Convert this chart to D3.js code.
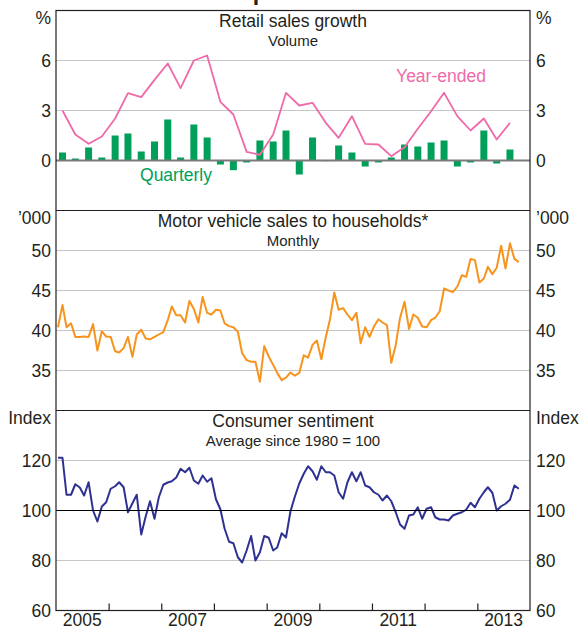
<!DOCTYPE html>
<html>
<head>
<meta charset="utf-8">
<script src="https://cdn.jsdelivr.net/npm/d3@7"></script>
<style>
  body { margin: 0; background: #fff; }
  svg { display: block; font-family: Arial, "Liberation Sans", sans-serif; }
</style>
</head>
<body>
<svg id="chart" width="580" height="628"></svg>
<script>
// retail sales volume, quarterly % change, Mar-2005 .. Sep-2013
const retailQuarterly = [
  0.48, 0.12, 0.78, 0.18, 1.5, 1.62, 0.54, 1.14, 2.46, 0.18, 2.16, 1.38,
  -0.24, -0.58, -0.12, 1.2, 1.14, 1.8, -0.84, 1.38, -0.04, 0.9, 0.48, -0.36,
  -0.12, 0.18, 0.96, 0.84, 1.08, 1.2, -0.36, -0.12, 1.8, -0.18, 0.66
]
// retail sales volume, year-ended % change, same quarters
const retailYearEnded = [
  3.0, 1.56, 1.0, 1.44, 2.52, 4.04, 3.8, 4.84, 5.82, 4.34, 6.0, 6.3,
  3.52, 2.76, 0.52, 0.34, 1.56, 4.06, 3.3, 3.46, 2.26, 1.36, 2.66, 1.0,
  0.96, 0.26, 0.8, 1.9, 2.96, 4.06, 2.66, 1.8, 2.52, 1.26, 2.26
]
// motor vehicle sales to households, '000, Jan-2005 .. Oct-2013
const motorVehicles = [
  40.4, 43.2, 40.4, 40.9, 39.2, 39.2, 39.25, 39.2, 40.8, 37.5, 39.9, 39.25,
  39.2, 37.4, 37.25, 37.8, 39.2, 36.7, 39.5, 40.1, 39.0, 38.9, 39.2, 39.5,
  39.8, 41.3, 43.0, 41.9, 41.9, 41.0, 43.7, 42.7, 41.0, 44.2, 42.2, 42.0,
  42.6, 42.5, 40.9, 40.55, 40.4, 39.85, 37.15, 36.3, 36.1, 36.1, 33.6, 38.05,
  36.75, 35.7, 34.7, 33.8, 34.1, 34.75, 34.35, 34.7, 36.9, 36.6, 38.2, 38.75,
  36.4, 39.2, 41.3, 44.75, 42.6, 42.8, 42.0, 41.3, 42.2, 38.4, 40.4, 39.2,
  40.5, 41.4, 41.0, 40.67, 35.96, 38.2, 41.6, 43.6, 40.2, 42.0, 41.6, 40.5,
  40.4, 41.3, 41.6, 42.4, 45.25, 45.0, 44.8, 45.5, 46.9, 46.7, 48.95, 48.8,
  46.0, 46.5, 47.95, 47.05, 47.85, 50.6, 47.75, 50.9, 48.95, 48.55
]
// consumer sentiment index, Jan-2005 .. Oct-2013
const consumerSentiment = [
  121.1, 121.1, 106.3, 106.3, 110.5, 109.2, 106, 111.3, 100, 95.6, 101.6, 103.3,
  108.7, 109.7, 111.3, 109.3, 99.3, 102.9, 106.3, 90.4, 97.6, 103.7, 96.7, 105.3,
  110.3, 111.2, 111.7, 113.2, 116.7, 115.3, 117.1, 112, 110.7, 114, 111.5, 112.9,
  104.5, 100.5, 92.8, 87.5, 86.9, 81.3, 79.2, 84, 89.8, 80, 83.3, 89.8,
  89.1, 84, 85.2, 90.9, 89.2, 99.7, 105.5, 110.8, 114.7, 117.7, 115.7, 112.3,
  117.7, 115.3, 115.3, 114, 107.3, 104.7, 111.3, 115.3, 111.7, 115.3, 110, 109.3,
  107.3, 106.3, 104, 106, 103.7, 99.3, 94.4, 92.7, 98, 98.4, 101.3, 96.7,
  100.7, 101.3, 97.3, 96.4, 96.4, 96, 98, 98.7, 99.3, 100.3, 103.1, 101.3,
  104.7, 107.3, 109.3, 107.1, 100, 101.7, 102.7, 104.3, 110, 108.7
]
const yearLabels = [2005, 2007, 2009, 2011, 2013]
const retailTicks = [0, 3, 6]
const motorTicks = [35, 40, 45, 50]
const sentimentTicks = [60, 80, 100, 120]

// layout
const LEFT = 56
const RIGHT = 530
const TOP = 10.5
const PANEL = 200
const MID = (LEFT + RIGHT) / 2
const TEXT = '#231f20'
const FONT = 17.5

const svg = d3.select('#chart')

// quarterly points sit mid-quarter, monthly points mid-month
const quarterDate = (i) => new Date(2005, 3 * i + 1, 15)
const monthDate = (i) => new Date(2005, i, 15)

const x = d3.scaleTime()
  .domain([new Date(2005, 0, 1), new Date(2014, 0, 1)])
  .range([LEFT, RIGHT])

const panels = [
  { top: TOP, domain: [-3, 9], ticks: retailTicks, unit: '%',
    title: 'Retail sales growth', sub: 'Volume', base: 0, baseColor: '#7a7a7a', baseWidth: 2 },
  { top: TOP + PANEL, domain: [30, 55], ticks: motorTicks, unit: '\u2019000',
    title: 'Motor vehicle sales to households*', sub: 'Monthly' },
  { top: TOP + PANEL * 2, domain: [60, 140], ticks: sentimentTicks, unit: 'Index',
    title: 'Consumer sentiment', sub: 'Average since 1980 = 100', base: 100, baseColor: '#000', baseWidth: 1 }
]

// main title, mostly cropped off the top of the picture as in the source
svg.append('text')
  .attr('x', MID)
  .attr('y', -0.5)
  .attr('text-anchor', 'middle')
  .attr('font-size', 23)
  .attr('font-weight', 'bold')
  .attr('fill', TEXT)
  .text('Consumption Indicators')

panels.forEach((p) => {
  p.y = d3.scaleLinear().domain(p.domain).range([p.top + PANEL, p.top])
  const g = svg.append('g')

  // gridlines
  g.selectAll('.grid')
    .data(p.ticks.filter((t) => t !== p.base && t !== p.domain[0]))
    .join('line')
    .attr('class', 'grid')
    .attr('x1', LEFT).attr('x2', RIGHT)
    .attr('y1', (d) => p.y(d)).attr('y2', (d) => p.y(d))
    .attr('stroke', '#c6c6c6')
    .attr('stroke-width', 1)

  // tick labels both sides
  const left = d3.axisLeft(p.y).tickValues(p.ticks).tickSize(0).tickPadding(5)
  const right = d3.axisRight(p.y).tickValues(p.ticks).tickSize(0).tickPadding(6)
  ;[[left, LEFT], [right, RIGHT]].forEach(([axis, pos]) => {
    g.append('g')
      .attr('transform', `translate(${pos},0)`)
      .call(axis)
      .call((a) => {
        a.select('.domain').remove()
        a.selectAll('text')
          .attr('font-size', FONT)
          .attr('font-family', 'Arial, "Liberation Sans", sans-serif')
          .attr('fill', TEXT)
      })
  })

  // units at the top of each panel
  g.append('text')
    .attr('x', LEFT - 5).attr('y', p.top + 7)
    .attr('dy', '0.35em')
    .attr('text-anchor', 'end')
    .attr('font-size', FONT).attr('fill', TEXT)
    .text(p.unit)
  g.append('text')
    .attr('x', RIGHT + 6).attr('y', p.top + 7)
    .attr('dy', '0.35em')
    .attr('font-size', FONT).attr('fill', TEXT)
    .text(p.unit)

  // panel titles
  g.append('text')
    .attr('x', MID).attr('y', p.top + 16.5)
    .attr('text-anchor', 'middle')
    .attr('font-size', FONT).attr('fill', TEXT)
    .text(p.title)
  g.append('text')
    .attr('x', MID).attr('y', p.top + 35.5)
    .attr('text-anchor', 'middle')
    .attr('font-size', 15).attr('fill', TEXT)
    .text(p.sub)
})

// retail sales: quarterly bars + year-ended line
const p1 = panels[0]
svg.append('g')
  .selectAll('rect')
  .data(retailQuarterly)
  .join('rect')
  .attr('x', (d, i) => x(quarterDate(i)) - 3.5)
  .attr('width', 7)
  .attr('y', (d) => p1.y(Math.max(0, d)))
  .attr('height', (d) => Math.abs(p1.y(d) - p1.y(0)))
  .attr('fill', '#00a05a')

svg.append('path')
  .datum(retailYearEnded)
  .attr('fill', 'none')
  .attr('stroke', '#ef6aa8')
  .attr('stroke-width', 1.8)
  .attr('stroke-linejoin', 'round')
  .attr('d', d3.line().x((d, i) => x(quarterDate(i))).y((d) => p1.y(d)))

svg.append('text')
  .attr('x', 441).attr('y', 82)
  .attr('text-anchor', 'middle')
  .attr('font-size', FONT).attr('fill', '#ef6aa8')
  .text('Year-ended')
svg.append('text')
  .attr('x', 176).attr('y', 181)
  .attr('text-anchor', 'middle')
  .attr('font-size', FONT).attr('fill', '#00a05a')
  .text('Quarterly')

// motor vehicles
const p2 = panels[1]
svg.append('path')
  .datum(motorVehicles)
  .attr('fill', 'none')
  .attr('stroke', '#f7941d')
  .attr('stroke-width', 2)
  .attr('stroke-linejoin', 'round')
  .attr('d', d3.line().x((d, i) => x(monthDate(i))).y((d) => p2.y(d)))

// consumer sentiment
const p3 = panels[2]
svg.append('path')
  .datum(consumerSentiment)
  .attr('fill', 'none')
  .attr('stroke', '#2e3192')
  .attr('stroke-width', 2)
  .attr('stroke-linejoin', 'round')
  .attr('d', d3.line().x((d, i) => x(monthDate(i))).y((d) => p3.y(d)))

// base lines drawn after bars so they sit on top
panels.filter((p) => p.base !== undefined).forEach((p) => {
  svg.append('line')
    .attr('x1', LEFT).attr('x2', RIGHT)
    .attr('y1', p.y(p.base)).attr('y2', p.y(p.base))
    .attr('stroke', p.baseColor)
    .attr('stroke-width', p.baseWidth)
})

// frame and panel dividers
svg.append('rect')
  .attr('x', LEFT).attr('y', TOP)
  .attr('width', RIGHT - LEFT).attr('height', PANEL * 3)
  .attr('fill', 'none')
  .attr('stroke', '#231f20')
  .attr('stroke-width', 1.2)
;[1, 2].forEach((k) => {
  svg.append('line')
    .attr('x1', LEFT).attr('x2', RIGHT)
    .attr('y1', TOP + PANEL * k).attr('y2', TOP + PANEL * k)
    .attr('stroke', '#231f20')
    .attr('stroke-width', 1.2)
})

// x axis: year ticks pointing inward, labels centred on the year
const xAxis = d3.axisBottom(x)
  .tickValues(d3.timeYear.range(new Date(2006, 0, 1), new Date(2014, 0, 1)))
  .tickSize(-7)
  .tickFormat('')
svg.append('g')
  .attr('transform', `translate(0,${TOP + PANEL * 3})`)
  .call(xAxis)
  .call((a) => {
    a.select('.domain').remove()
    a.selectAll('.tick line').attr('stroke', '#231f20').attr('stroke-width', 1.2)
  })

svg.append('g')
  .selectAll('text')
  .data(yearLabels)
  .join('text')
  .attr('x', (d) => x(new Date(d, 6, 2)))
  .attr('y', 626)
  .attr('text-anchor', 'middle')
  .attr('font-size', FONT).attr('fill', TEXT)
  .text((d) => d)
</script>
</body>
</html>
